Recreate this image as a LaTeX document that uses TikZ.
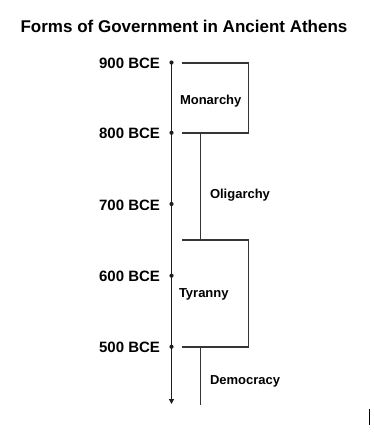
\documentclass[tikz,border=0pt]{standalone}
\usepackage{fontspec}
\setmainfont{Liberation Sans}
\usetikzlibrary{arrows.meta}
\definecolor{ink}{HTML}{1E1E1E}
\tikzset{
  every node/.style={inner sep=0pt, outer sep=0pt, text=black},
  yearlbl/.style={anchor=base east, font=\fontsize{15}{15}\selectfont\bfseries},
  eralbl/.style={anchor=base west, font=\fontsize{13}{13}\selectfont\bfseries},
  axisline/.style={draw=ink, line width=1.5pt},
  eraline/.style={draw=ink!90, line width=1.5pt},
  tick/.style={circle, fill=ink, minimum size=4.2pt, inner sep=0pt},
}
\begin{document}
\begin{tikzpicture}[x=1pt,y=-1pt]
\useasboundingbox (0,0) rectangle (374,433);
\node[anchor=base, font=\fontsize{17}{17}\selectfont\bfseries] (title) at (184,32.3) {Forms of Government in Ancient Athens};
% ticks
\node[tick] (t9) at (171.5,62.5) {};
\node[tick] (t8) at (171.5,132.8) {};
\node[tick] (t7) at (171.5,204) {};
\node[tick] (t6) at (171.5,275.7) {};
\node[tick] (t5) at (171.5,346.8) {};
\coordinate (tend) at (171.5,404);
\draw[axisline, -{Triangle[length=5pt,width=5pt]}] (t9.center) -- (tend);
% year labels
\node[yearlbl] (y9) at (160,68.5) {900 BCE};
\node[yearlbl] (y8) at (160,138.8) {800 BCE};
\node[yearlbl] (y7) at (160,210) {700 BCE};
\node[yearlbl] (y6) at (160,281.7) {600 BCE};
\node[yearlbl] (y5) at (160,352.8) {500 BCE};
% Monarchy bracket
\coordinate (m1) at (181.7,63);
\coordinate (m2) at (248.3,63);
\coordinate (m3) at (248.3,133);
\coordinate (m4) at (181.7,133);
\draw[eraline] (m1) -- (m2) -- (m3) -- (m4);
% Oligarchy stem
\coordinate (o1) at (200.5,133);
\coordinate (o2) at (200.5,240);
\draw[eraline] (o1) -- (o2);
% Tyranny bracket
\coordinate (ty1) at (181.7,240);
\coordinate (ty2) at (248.3,240);
\coordinate (ty3) at (248.3,347);
\coordinate (ty4) at (181.7,347);
\draw[eraline] (ty1) -- (ty2) -- (ty3) -- (ty4);
% Democracy stem
\coordinate (d1) at (200.5,347);
\coordinate (d2) at (200.5,404.5);
\draw[eraline] (d1) -- (d2);
% era labels
\node[eralbl] (mon) at (180,104.5) {Monarchy};
\node[eralbl] (oli) at (210,198.5) {Oligarchy};
\node[eralbl] (tyr) at (179,297.5) {Tyranny};
\node[eralbl] (dem) at (210,384) {Democracy};
% small bar
\coordinate (b1) at (369,409);
\coordinate (b2) at (369,425);
\draw[black, line width=1pt] (b1) -- (b2);
\end{tikzpicture}
\end{document}
